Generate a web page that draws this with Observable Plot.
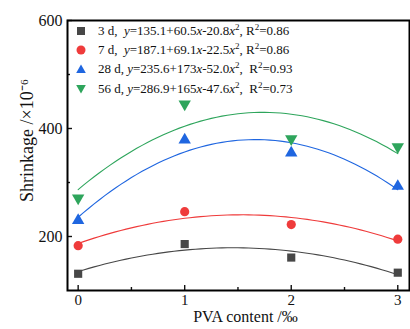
<!DOCTYPE html>
<html><head><meta charset="utf-8">
<script src="https://cdn.jsdelivr.net/npm/d3@7"></script>
<script src="https://cdn.jsdelivr.net/npm/@observablehq/plot@0.6"></script>
<style>
body{margin:0;background:#fff;}
#wrap{position:relative;width:410px;height:329px;font-family:"Liberation Serif","Times New Roman",serif;}
#wrap svg text{font-family:"Liberation Serif","Times New Roman",serif !important;}
#legend{position:absolute;left:75px;top:21px;font-size:13px;color:#111;}
.row{display:flex;align-items:center;height:19.3px;white-space:pre;}
.row svg{width:12px;height:10px;margin-right:11px;}
sup{font-size:9px;line-height:0;vertical-align:5px;}
</style></head><body><div id="wrap"><div id="legend"></div></div>
<script>
const pva = [0, 1, 2, 3];
const series = ["3 d", "7 d", "28 d", "56 d"];
const s3 = [131, 186, 161, 133];
const s7 = [183, 246, 222, 195];
const s28 = [230, 379, 355, 293];
const s56 = [271, 445, 381, 366];
const coefA = [135.1, 187.1, 235.6, 286.9];
const coefB = [60.5, 69.1, 173, 165];
const coefC = [-20.8, -22.5, -52.0, -47.6];
const coefAText = ["135.1", "187.1", "235.6", "286.9"];
const coefBText = ["60.5", "69.1", "173", "165"];
const coefCText = ["20.8", "22.5", "52.0", "47.6"];
const r2 = ["0.86", "0.86", "0.93", "0.73"];
const xTicks = [0, 1, 2, 3];
const xMinor = [0.5, 1.5, 2.5];
const yTicks = [200, 400, 600];
const yMinor = [300, 500];

const colors = ["#474747", "#ef3b3b", "#1f66e0", "#2ea55c"];
const triDown = {draw(ctx, size) {
  const y = -Math.sqrt(size / (Math.sqrt(3) * 3));
  ctx.moveTo(0, -y * 2); ctx.lineTo(-Math.sqrt(3) * y, y); ctx.lineTo(Math.sqrt(3) * y, y); ctx.closePath();
}};
const symbols = ["square", "circle", "triangle", triDown];

const allVals = [s3, s7, s28, s56];
const points = [];
series.forEach((s, i) => pva.forEach((x, j) => points.push({s, x, y: allVals[i][j]})));
const fine = d3.range(0, 3.0001, 0.05);
const curves = [];
series.forEach((s, i) => fine.forEach(x => curves.push({s, x, y: coefA[i] + coefB[i] * x + coefC[i] * x * x})));

const serif = "'Liberation Serif', 'Times New Roman', serif";
const plot = Plot.plot({
  width: 410, height: 329,
  marginLeft: 67, marginRight: 1, marginTop: 20, marginBottom: 39,
  x: {domain: [-0.1, 3.11]},
  y: {domain: [100, 600]},
  color: {domain: series, range: colors},
  symbol: {domain: series, range: symbols},
  style: {fontFamily: serif, fontSize: "16px", background: "white", color: "#111"},
  marks: [
    Plot.axisX(xTicks, {tickSize: -5, text: null, label: null, strokeWidth: 1.4}),
    Plot.axisX(xMinor, {tickSize: -3, text: null, label: null, strokeWidth: 1.4}),
    Plot.axisX(xTicks, {tickSize: 0, tickPadding: 4, fontSize: 15, label: null, fontFamily: serif}),
    Plot.axisY(yTicks, {tickSize: -5, text: null, label: null, strokeWidth: 1.4}),
    Plot.axisY(yMinor, {tickSize: -3, text: null, label: null, strokeWidth: 1.4}),
    Plot.axisY(yTicks, {tickSize: 0, tickPadding: 5, fontSize: 16, label: null, fontFamily: serif}),
    Plot.line(curves, {x: "x", y: "y", stroke: "s", strokeWidth: 1.1}),
    Plot.dot(points, {x: "x", y: "y", fill: "s", symbol: "s", r: 4.6, stroke: null}),
    Plot.frame({strokeWidth: 2, stroke: "#000"}),
    Plot.text(["PVA content /‰"], {frameAnchor: "bottom", dy: 31, dx: 7, fontSize: 16, fontFamily: serif}),
    Plot.text(["Shrinkage /×10⁻⁶"], {frameAnchor: "left", textAnchor: "middle", dx: -40, dy: -15, rotate: -90, fontSize: 18, fontFamily: serif})
  ]
});
const wrap = document.getElementById("wrap");
wrap.insertBefore(plot, wrap.firstChild);

const shapes = [
  c => `<rect x="2" y="1" width="8" height="8" fill="${c}"/>`,
  c => `<circle cx="6" cy="5" r="4.5" fill="${c}"/>`,
  c => `<path d="M6,0.5L10.8,9H1.2Z" fill="${c}"/>`,
  c => `<path d="M6,9.5L10.8,1H1.2Z" fill="${c}"/>`
];
const gaps = ["  ", "  ", " ", " "];
const gaps2 = [" ", " ", "  ", "  "];
const legend = document.getElementById("legend");
series.forEach((s, i) => {
  const row = document.createElement("div");
  row.className = "row";
  row.innerHTML = `<svg viewBox="0 0 12 10">${shapes[i](colors[i])}</svg><span>${s},${gaps[i]}<i>y</i>=${coefAText[i]}+${coefBText[i]}<i>x</i>-${coefCText[i]}<i>x</i><sup>2</sup>,${gaps2[i]}R<sup>2</sup>=${r2[i]}</span>`;
  legend.appendChild(row);
});
</script>
</body></html>
